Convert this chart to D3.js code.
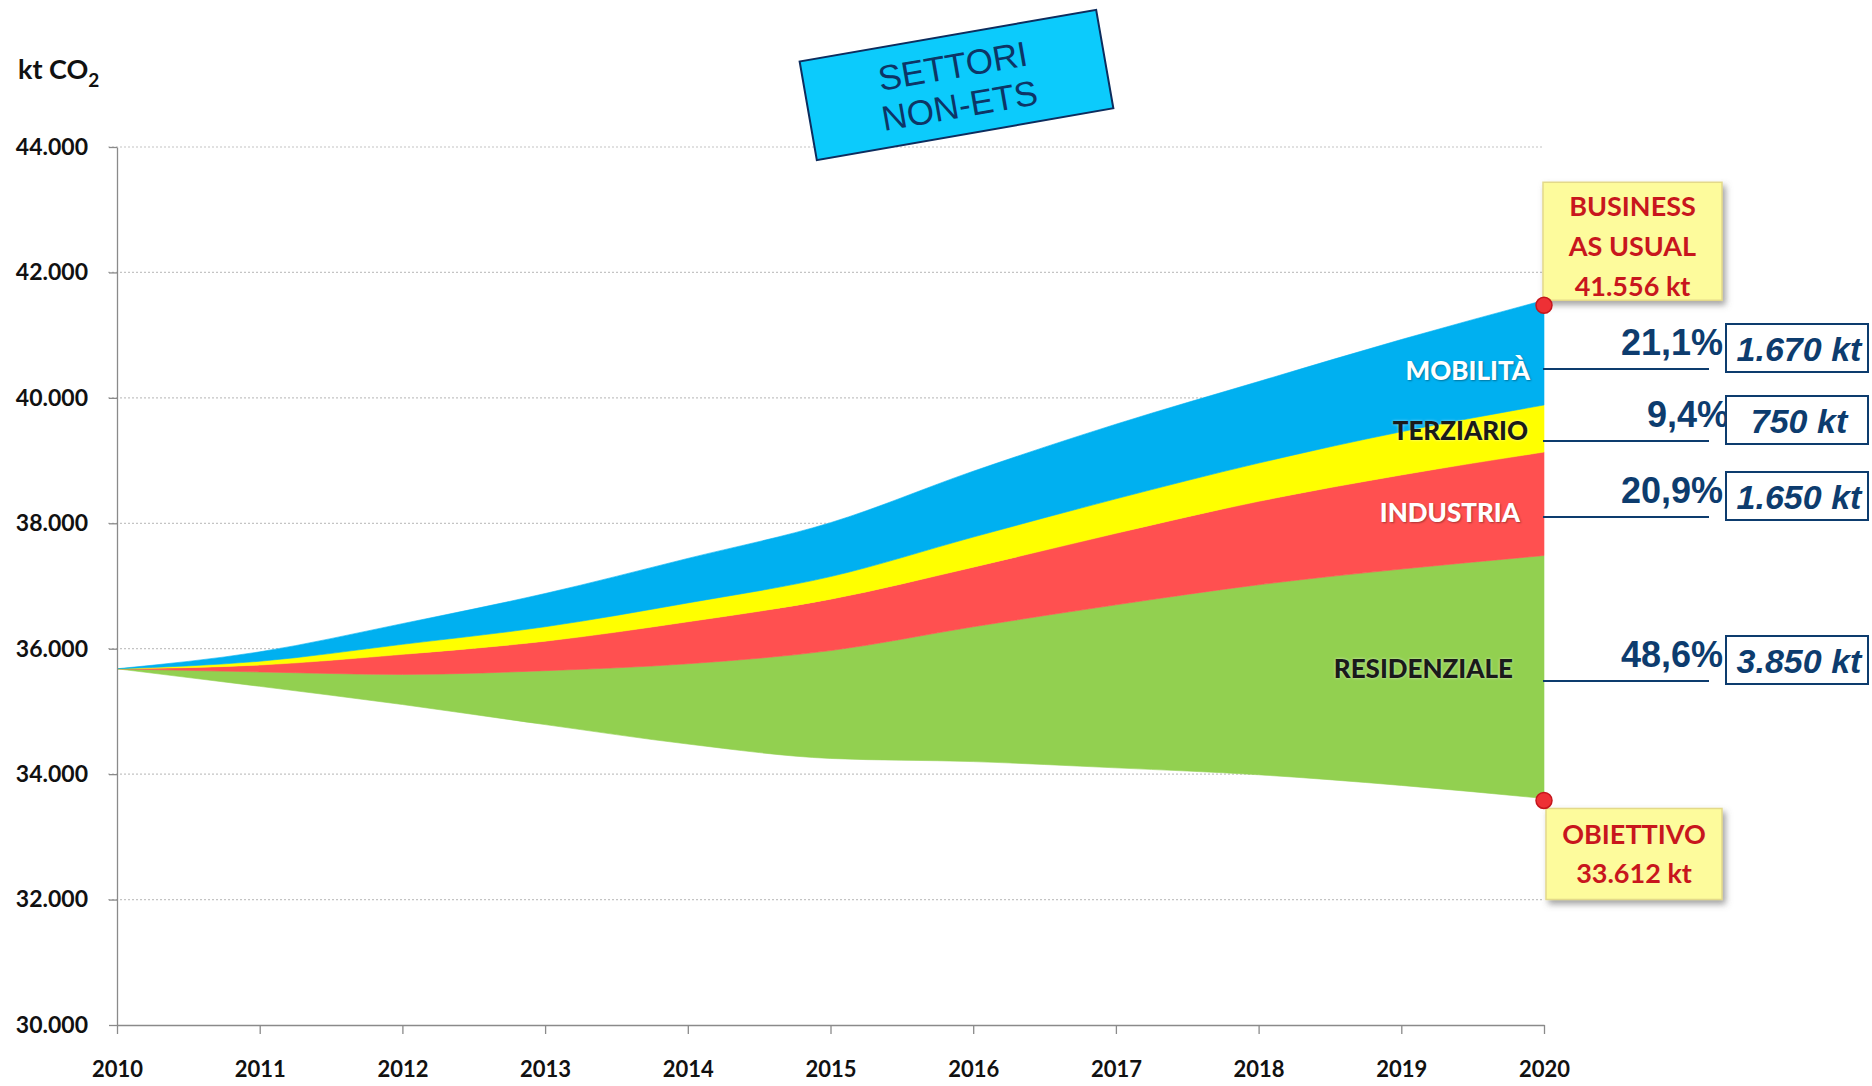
<!DOCTYPE html>
<html>

<head>
    <meta charset="utf-8">
    <title>Settori non-ETS - riduzioni CO2 al 2020</title>
    <script type="text/javascript" src="https://d3js.org/d3.v7.min.js"></script>
    <style>
        body { margin: 0; background: #fff; }
        text { font-family: Lato, "Open Sans", sans-serif; }
    </style>
</head>

<body>
    <script type="text/javascript">
        //Data (kt CO2)
        var years = [2010, 2011, 2012, 2013, 2014, 2015, 2016, 2017, 2018, 2019, 2020];
        var obiettivo = [35680, 35400, 35110, 34790, 34480, 34250, 34200, 34100, 33990, 33820, 33612];
        var residenziale = [0, 230, 480, 860, 1280, 1720, 2150, 2600, 3030, 3450, 3874];
        var industria = [0, 110, 320, 470, 670, 820, 950, 1140, 1330, 1500, 1650];
        var terziario = [0, 60, 160, 230, 300, 360, 480, 550, 610, 690, 750];
        var mobilita = [0, 150, 330, 530, 710, 860, 1050, 1190, 1300, 1470, 1670];

        var yTicks = [30000, 32000, 34000, 36000, 38000, 40000, 42000, 44000];
        var settori = ["MOBILITÀ", "TERZIARIO", "INDUSTRIA", "RESIDENZIALE"];
        var quote = ["21,1%", "9,4%", "20,9%", "48,6%"];
        var riduzioni = ["1.670 kt", "750 kt", "1.650 kt", "3.850 kt"];
        var bauLabel = ["BUSINESS", "AS USUAL", "41.556 kt"];
        var objLabel = ["OBIETTIVO", "33.612 kt"];

        //Layout
        var w = 1872;
        var h = 1086;
        var colors = { residenziale: "#92d050", industria: "#ff5050", terziario: "#ffff00", mobilita: "#00b0f0" };
        var navy = "#0d3c6e";
        var darkRed = "#c8161d";
        //row y for the right-hand annotations, and label styles inside the areas
        var rowY = [369, 441, 517, 681];
        var labelStyle = [
            { fill: "#ffffff", dx: -14, dy: 11 },
            { fill: "#1a1a1a", dx: -16, dy: -1 },
            { fill: "#ffffff", dx: -24, dy: 5 },
            { fill: "#1a1a1a", dx: -31, dy: -3 }
        ];

        var it = d3.formatLocale({ decimal: ",", thousands: ".", grouping: [3], currency: ["", " €"] });

        var x = d3.scaleLinear().domain([2010, 2020]).range([117, 1544]);
        var y = d3.scaleLinear().domain([30000, 44000]).range([1025, 147]);

        var svg = d3.select("body")
            .append("svg")
            .attr("width", w)
            .attr("height", h);

        var defs = svg.append("defs");
        var shadow = defs.append("filter").attr("id", "shadow")
            .attr("x", "-10%").attr("y", "-10%").attr("width", "130%").attr("height", "130%");
        shadow.append("feDropShadow").attr("dx", 3).attr("dy", 4)
            .attr("stdDeviation", 3).attr("flood-color", "#666").attr("flood-opacity", 0.6);

        //Grid lines
        svg.append("g")
            .selectAll("line")
            .data(yTicks.slice(1))
            .enter()
            .append("line")
            .attr("x1", 108)
            .attr("x2", x(2020))
            .attr("y1", d => y(d))
            .attr("y2", d => y(d))
            .attr("stroke", "#c4c4c4")
            .attr("stroke-width", 1.2)
            .attr("stroke-dasharray", "2,2");

        //Stacked areas on top of the objective line
        var table = years.map(function(yr, i) {
            return {
                year: yr,
                base: obiettivo[i],
                residenziale: residenziale[i],
                industria: industria[i],
                terziario: terziario[i],
                mobilita: mobilita[i]
            };
        });

        var stack = d3.stack().keys(["base", "residenziale", "industria", "terziario", "mobilita"]);
        var series = stack(table).slice(1);

        var area = d3.area()
            .x(d => x(d.data.year))
            .y0(d => y(d[0]))
            .y1(d => y(d[1]))
            .curve(d3.curveMonotoneX);

        svg.append("g")
            .selectAll("path")
            .data(series)
            .enter()
            .append("path")
            .attr("d", area)
            .attr("fill", d => colors[d.key])
            .attr("stroke", d => colors[d.key])
            .attr("stroke-width", 0.6);

        //Axes
        var yAxis = d3.axisLeft(y)
            .tickValues(yTicks)
            .tickFormat(it.format(",d"))
            .tickSize(8)
            .tickSizeOuter(0)
            .tickPadding(21);

        var gy = svg.append("g")
            .attr("transform", "translate(" + x(2010) + ",0)")
            .call(yAxis);
        gy.selectAll("text")
            .style("font-family", "Lato, sans-serif")
            .style("font-weight", "bold")
            .style("font-size", "23px")
            .attr("fill", "#111");

        var xAxis = d3.axisBottom(x)
            .tickValues(years)
            .tickFormat(d3.format("d"))
            .tickSize(9)
            .tickSizeOuter(0)
            .tickPadding(27);

        var gx = svg.append("g")
            .attr("transform", "translate(0," + y(30000) + ")")
            .call(xAxis);
        gx.selectAll("text")
            .style("font-family", "Lato, sans-serif")
            .style("font-weight", "bold")
            .style("font-size", "22px")
            .attr("fill", "#111");

        svg.selectAll(".domain, .tick line").attr("stroke", "#8a8a8a").attr("stroke-width", 1.3);

        //Unit label
        var unit = svg.append("text")
            .attr("x", 18)
            .attr("y", 79)
            .style("font-size", "27px")
            .style("font-weight", "bold")
            .attr("fill", "#111")
            .text("kt CO");
        unit.append("tspan")
            .attr("dy", 8)
            .style("font-size", "19px")
            .text("2");

        //End values at 2020
        var last = table[table.length - 1];
        var bau = last.base + last.residenziale + last.industria + last.terziario + last.mobilita;

        //Sector labels inside the areas
        svg.append("g")
            .selectAll("text")
            .data(settori)
            .enter()
            .append("text")
            .attr("x", (d, i) => x(2020) + labelStyle[i].dx)
            .attr("y", (d, i) => rowY[i] + labelStyle[i].dy)
            .attr("text-anchor", "end")
            .attr("fill", (d, i) => labelStyle[i].fill)
            .style("font-size", "26px")
            .style("font-weight", "900")
            .style("text-shadow", (d, i) => labelStyle[i].fill == "#ffffff" ? "1px 1px 2px rgba(0,0,0,0.35)" : "0 0 3px rgba(255,255,255,0.6)")
            .text(d => d);

        //Right-hand annotation rows
        var rows = svg.append("g")
            .selectAll("g")
            .data(quote)
            .enter()
            .append("g");

        rows.append("line")
            .attr("x1", x(2020) - 1)
            .attr("x2", 1709)
            .attr("y1", (d, i) => rowY[i])
            .attr("y2", (d, i) => rowY[i])
            .attr("stroke", navy)
            .attr("stroke-width", 2);

        rows.append("text")
            .attr("x", (d, i) => i == 1 ? 1729 : 1723)
            .attr("y", (d, i) => rowY[i] - 14)
            .attr("text-anchor", "end")
            .attr("fill", navy)
            .style("font-family", "'Liberation Sans', Arial, sans-serif")
            .style("font-weight", "bold")
            .style("font-size", "36px")
            .text(d => d);

        rows.append("rect")
            .attr("x", 1726)
            .attr("y", (d, i) => rowY[i] - 45)
            .attr("width", 142)
            .attr("height", 48)
            .attr("fill", "#fff")
            .attr("stroke", navy)
            .attr("stroke-width", 2);

        rows.append("text")
            .attr("x", 1799)
            .attr("y", (d, i) => rowY[i] - 8)
            .attr("text-anchor", "middle")
            .attr("fill", navy)
            .style("font-family", "'Liberation Sans', Arial, sans-serif")
            .style("font-weight", "bold")
            .style("font-style", "italic")
            .style("font-size", "34px")
            .text((d, i) => riduzioni[i]);

        //Callout boxes
        function callout(lines, bx, by, bw, bh, firstBase, step) {
            var g = svg.append("g");
            g.append("rect")
                .attr("x", bx)
                .attr("y", by)
                .attr("width", bw)
                .attr("height", bh)
                .attr("fill", "#fdfb9c")
                .attr("stroke", "#e3d98a")
                .attr("stroke-width", 1.5)
                .attr("filter", "url(#shadow)");
            g.selectAll("text")
                .data(lines)
                .enter()
                .append("text")
                .attr("x", bx + bw / 2)
                .attr("y", (d, i) => by + firstBase + i * step)
                .attr("text-anchor", "middle")
                .attr("fill", darkRed)
                .style("font-size", "27px")
                .style("font-weight", "bold")
                .text(d => d);
        }

        callout(bauLabel, x(2020) - 1, y(bau) - 118, 179, 118, 34, 40);
        callout(objLabel, x(2020) + 2, y(last.base) + 10, 176, 91, 36, 39);

        //Red markers
        svg.append("g")
            .selectAll("circle")
            .data([bau, last.base])
            .enter()
            .append("circle")
            .attr("cx", x(2020))
            .attr("cy", (d, i) => y(d) + (i == 0 ? 5 : 2))
            .attr("r", 8)
            .attr("fill", "#ee3035")
            .attr("stroke", "#c4161c")
            .attr("stroke-width", 1.5);

        //Title box
        var title = svg.append("g")
            .attr("transform", "translate(956,85) rotate(-9.9)");
        title.append("rect")
            .attr("x", -150)
            .attr("y", -50)
            .attr("width", 301)
            .attr("height", 100)
            .attr("fill", "#0ccbfc")
            .attr("stroke", "#0d2d5e")
            .attr("stroke-width", 2);
        title.selectAll("text")
            .data(["SETTORI", "NON-ETS"])
            .enter()
            .append("text")
            .attr("x", 0)
            .attr("y", (d, i) => -7 + i * 40)
            .attr("text-anchor", "middle")
            .attr("fill", "#0d3566")
            .style("font-family", "'Liberation Sans', Arial, sans-serif")
            .style("font-size", "35px")
            .text(d => d);
    </script>
</body>

</html>
